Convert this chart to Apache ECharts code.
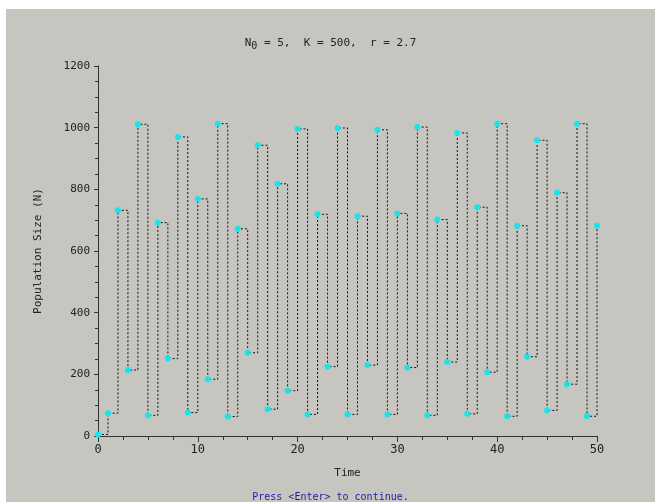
<!DOCTYPE html>
<html>
<head>
<meta charset="utf-8">
<script src="https://cdn.jsdelivr.net/npm/echarts@6/dist/echarts.min.js"></script>
<style>
  html, body { margin: 0; padding: 0; background: #ffffff; }
  #chart { position: absolute; left: 6px; top: 9px; width: 649px; height: 493px; background: #c6c5c0; }
</style>
</head>
<body>
<div id="chart"></div>
<script>
// population size at each time step
const population = [
  5, 74, 732, 214, 1011, 67, 692, 251, 970, 76,
  769, 184, 1013, 63, 672, 270, 943, 87, 818, 147,
  996, 70, 719, 225, 999, 70, 713, 230, 993, 70,
  722, 222, 1002, 67, 702, 240, 983, 72, 742, 207,
  1013, 64, 682, 257, 959, 83, 789, 168, 1013, 64,
  682
];
const yTicks = [0, 200, 400, 600, 800, 1000, 1200];
const xTicks = [0, 10, 20, 30, 40, 50];

const font = 'DejaVu Sans Mono';
const chart = echarts.init(document.getElementById('chart'));

const points = population.map((n, t) => [t, n]);

const option = {
  backgroundColor: '#c6c5c0',
  animation: false,
  title: {
    text: '{n|N}{s|0}{n| = 5,  K = 500,  r = 2.7}',
    left: 'center',
    top: 21,
    textStyle: {
      fontWeight: 'normal',
      rich: {
        n: { fontFamily: font, fontSize: 11, fontWeight: 'normal', color: '#222' },
        s: { fontFamily: font, fontSize: 10, fontWeight: 'normal', color: '#222', verticalAlign: 'bottom', padding: [6, 0, 0, 0] }
      }
    }
  },
  grid: { left: 92, right: 58, top: 57, bottom: 66 },
  xAxis: {
    type: 'value',
    min: xTicks[0],
    max: xTicks[xTicks.length - 1],
    interval: 10,
    name: 'Time',
    nameLocation: 'middle',
    nameGap: 32,
    nameTextStyle: { fontFamily: font, fontSize: 11, color: '#222', verticalAlign: 'top' },
    axisLine: { lineStyle: { color: '#333', width: 1 } },
    axisTick: { length: 6, lineStyle: { color: '#333' } },
    minorTick: { show: true, splitNumber: 4, length: 4, lineStyle: { color: '#333' } },
    axisLabel: { fontFamily: font, fontSize: 12, color: '#222', margin: 8, formatter: v => String(v) },
    splitLine: { show: false }
  },
  yAxis: {
    type: 'value',
    min: yTicks[0],
    max: yTicks[yTicks.length - 1],
    interval: 200,
    name: 'Population Size (N)',
    nameLocation: 'middle',
    nameGap: 54,
    nameTextStyle: { fontFamily: font, fontSize: 11, color: '#222' },
    axisLine: { show: true, lineStyle: { color: '#333', width: 1 } },
    axisTick: { show: true, length: 4, lineStyle: { color: '#333' } },
    minorTick: { show: true, splitNumber: 4, length: 3, lineStyle: { color: '#333' } },
    axisLabel: { fontFamily: font, fontSize: 11, color: '#222', margin: 8, formatter: v => String(v) },
    splitLine: { show: false }
  },
  graphic: [{
    type: 'text',
    left: 'center',
    bottom: 0,
    style: { text: 'Press <Enter> to continue.', fontFamily: font, fontSize: 10, fill: '#1c1ca8' }
  }],
  series: [{
    type: 'line',
    step: 'end',
    data: points,
    symbol: 'circle',
    symbolSize: 6,
    itemStyle: { color: '#14e6ec' },
    lineStyle: { color: '#111', width: 1, type: [2, 2] }
  }]
};

chart.setOption(option);
</script>
</body>
</html>
